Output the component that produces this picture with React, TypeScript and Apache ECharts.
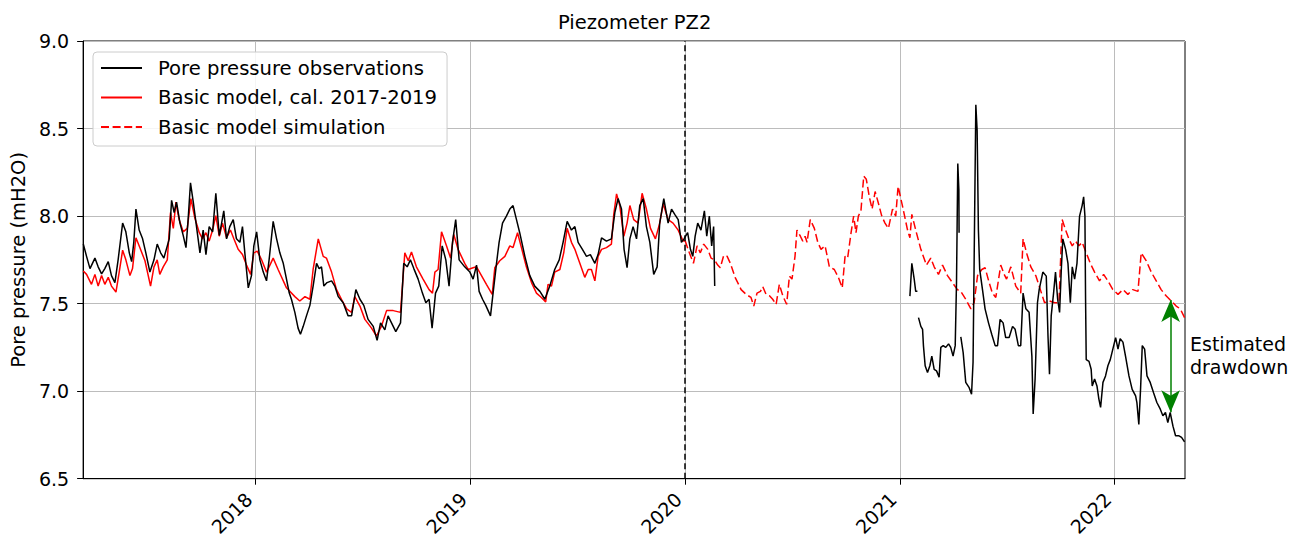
import React, { useEffect, useRef } from "react";
import * as echarts from "echarts";

// ---- axis ranges / ticks (decimal years, mH2O) ----
const X_MIN = 2017.197;
const X_MAX = 2022.328;
const YEAR_TICKS = [2018, 2019, 2020, 2021, 2022];
const Y_MIN = 6.5;
const Y_MAX = 9.0;
const Y_STEP = 0.5;
const SPLIT_YEAR = 2020.0;

// ---- observations (black) ----
const OBS_A: number[][] = [
  [2017.198, 7.84], [2017.213, 7.77], [2017.229, 7.70], [2017.252, 7.76], [2017.267, 7.71], [2017.283, 7.67],
  [2017.298, 7.70], [2017.314, 7.74], [2017.329, 7.66], [2017.345, 7.62], [2017.360, 7.75], [2017.381, 7.96],
  [2017.396, 7.91], [2017.412, 7.79], [2017.423, 7.74], [2017.433, 7.85], [2017.443, 8.04], [2017.458, 7.92],
  [2017.474, 7.87], [2017.489, 7.79], [2017.508, 7.68], [2017.527, 7.75], [2017.542, 7.84], [2017.558, 7.79],
  [2017.573, 7.76], [2017.589, 7.83], [2017.598, 7.87], [2017.609, 8.09], [2017.621, 8.02], [2017.632, 8.08],
  [2017.648, 7.96], [2017.663, 7.89], [2017.676, 7.82], [2017.686, 7.98], [2017.697, 8.19], [2017.710, 8.08],
  [2017.725, 7.94], [2017.741, 7.79], [2017.756, 7.92], [2017.769, 7.78], [2017.784, 7.94], [2017.800, 7.91],
  [2017.815, 8.13], [2017.831, 7.89], [2017.842, 7.96], [2017.852, 8.03], [2017.865, 7.87], [2017.880, 7.94],
  [2017.896, 7.98], [2017.911, 7.87], [2017.927, 7.85], [2017.939, 7.94], [2017.950, 7.79], [2017.966, 7.59],
  [2017.981, 7.66], [2017.992, 7.83], [2018.005, 7.91], [2018.020, 7.75], [2018.036, 7.68], [2018.051, 7.63],
  [2018.063, 7.75], [2018.082, 7.97], [2018.098, 7.87], [2018.113, 7.79], [2018.129, 7.73], [2018.144, 7.64],
  [2018.157, 7.56], [2018.167, 7.525], [2018.183, 7.45], [2018.198, 7.36], [2018.209, 7.325], [2018.222, 7.37],
  [2018.237, 7.43], [2018.253, 7.49], [2018.268, 7.60], [2018.284, 7.73], [2018.296, 7.70], [2018.307, 7.71],
  [2018.318, 7.60], [2018.333, 7.62], [2018.354, 7.63], [2018.369, 7.60], [2018.385, 7.54], [2018.408, 7.505],
  [2018.431, 7.43], [2018.447, 7.43], [2018.467, 7.58], [2018.486, 7.525], [2018.504, 7.49], [2018.524, 7.41],
  [2018.548, 7.37], [2018.566, 7.29], [2018.582, 7.39], [2018.602, 7.35], [2018.617, 7.43], [2018.633, 7.39],
  [2018.653, 7.34], [2018.675, 7.39], [2018.690, 7.73], [2018.706, 7.71], [2018.721, 7.75], [2018.737, 7.70],
  [2018.757, 7.64], [2018.777, 7.56], [2018.793, 7.505], [2018.808, 7.525], [2018.822, 7.36], [2018.838, 7.56],
  [2018.853, 7.60], [2018.869, 7.83], [2018.886, 7.75], [2018.901, 7.60], [2018.917, 7.85], [2018.932, 7.98],
  [2018.948, 7.75], [2018.974, 7.71], [2018.998, 7.68], [2019.013, 7.64], [2019.029, 7.72], [2019.041, 7.57],
  [2019.057, 7.525], [2019.072, 7.49], [2019.094, 7.43], [2019.106, 7.56], [2019.122, 7.73], [2019.134, 7.85],
  [2019.150, 7.96], [2019.168, 8.0], [2019.184, 8.04], [2019.199, 8.06], [2019.215, 7.98], [2019.230, 7.905],
  [2019.254, 7.77], [2019.277, 7.66], [2019.300, 7.60], [2019.324, 7.57], [2019.347, 7.525], [2019.370, 7.60],
  [2019.393, 7.695], [2019.414, 7.75], [2019.432, 7.85], [2019.451, 7.97], [2019.471, 7.92], [2019.487, 7.94],
  [2019.502, 7.85], [2019.522, 7.81], [2019.541, 7.77], [2019.559, 7.78], [2019.580, 7.73], [2019.595, 7.78],
  [2019.611, 7.876], [2019.634, 7.857], [2019.657, 7.87], [2019.673, 8.02], [2019.688, 8.10], [2019.704, 8.04],
  [2019.716, 7.81], [2019.730, 7.705], [2019.743, 7.87], [2019.758, 7.94], [2019.774, 7.87], [2019.789, 8.06],
  [2019.805, 8.10], [2019.820, 7.94], [2019.836, 7.85], [2019.854, 7.667], [2019.870, 7.71], [2019.882, 7.96],
  [2019.901, 8.10], [2019.921, 7.96], [2019.937, 8.04], [2019.952, 8.01], [2019.968, 7.98], [2019.983, 7.85],
  [2019.995, 7.87], [2020.012, 7.905], [2020.025, 7.81], [2020.036, 7.77], [2020.047, 7.885], [2020.059, 7.96],
  [2020.074, 7.92], [2020.090, 8.03], [2020.101, 7.885], [2020.113, 8.0], [2020.124, 7.83], [2020.133, 7.94],
  [2020.138, 7.60],
];
const OBS_B: number[][] = [
  [2021.047, 7.543], [2021.056, 7.73], [2021.067, 7.64], [2021.074, 7.57], [2021.082, 7.57],
];
const OBS_C: number[][] = [
  [2021.087, 7.42], [2021.098, 7.37], [2021.106, 7.353], [2021.110, 7.26], [2021.118, 7.145], [2021.129, 7.107],
  [2021.140, 7.145], [2021.149, 7.20], [2021.160, 7.125], [2021.171, 7.116], [2021.183, 7.08], [2021.191, 7.25],
  [2021.202, 7.26], [2021.214, 7.25], [2021.227, 7.27], [2021.237, 7.25], [2021.248, 7.20], [2021.258, 7.26],
  [2021.264, 7.62], [2021.270, 8.30], [2021.275, 8.15], [2021.276, 7.905],
];
const OBS_D: number[][] = [
  [2021.284, 7.31], [2021.295, 7.22], [2021.307, 7.05], [2021.323, 7.02], [2021.334, 6.983], [2021.341, 7.164],
  [2021.348, 7.96], [2021.354, 8.636], [2021.360, 8.49], [2021.366, 7.92], [2021.372, 7.695], [2021.385, 7.58],
  [2021.397, 7.47], [2021.413, 7.39], [2021.428, 7.325], [2021.444, 7.26], [2021.455, 7.26], [2021.467, 7.41],
  [2021.481, 7.39], [2021.493, 7.306], [2021.509, 7.306], [2021.525, 7.37], [2021.537, 7.353], [2021.552, 7.26],
  [2021.563, 7.26], [2021.574, 7.56], [2021.587, 7.47], [2021.602, 7.45], [2021.615, 7.20], [2021.621, 6.87],
  [2021.630, 7.07], [2021.641, 7.505], [2021.649, 7.58], [2021.666, 7.68], [2021.682, 7.657], [2021.690, 7.315],
  [2021.697, 7.097], [2021.705, 7.43], [2021.716, 7.56], [2021.725, 7.68], [2021.735, 7.525], [2021.744, 7.45],
  [2021.752, 7.695], [2021.759, 7.87], [2021.772, 7.81], [2021.783, 7.73], [2021.794, 7.505], [2021.803, 7.71],
  [2021.814, 7.64], [2021.825, 7.73], [2021.837, 8.0], [2021.849, 8.06], [2021.856, 8.11], [2021.862, 8.0],
  [2021.865, 7.525], [2021.868, 7.18], [2021.881, 7.17], [2021.891, 7.125], [2021.896, 7.03], [2021.907, 7.07],
  [2021.918, 7.03], [2021.927, 6.955], [2021.935, 6.907], [2021.946, 7.05], [2021.958, 7.087], [2021.969, 7.145],
  [2021.980, 7.18], [2021.992, 7.24], [2022.005, 7.306], [2022.016, 7.24], [2022.026, 7.30], [2022.039, 7.28],
  [2022.051, 7.20], [2022.067, 7.087], [2022.082, 7.01], [2022.098, 6.973], [2022.104, 6.935], [2022.113, 6.81],
  [2022.121, 7.01], [2022.129, 7.26], [2022.140, 7.24], [2022.151, 7.087], [2022.166, 7.05], [2022.182, 6.99],
  [2022.197, 6.935], [2022.213, 6.897], [2022.225, 6.86], [2022.237, 6.878], [2022.248, 6.82], [2022.259, 6.878],
  [2022.272, 6.80], [2022.284, 6.745], [2022.300, 6.745], [2022.312, 6.736], [2022.326, 6.71],
];

// ---- basic model, calibration period (red solid) ----
const CAL: number[][] = [
  [2017.198, 7.686], [2017.213, 7.667], [2017.236, 7.61], [2017.252, 7.667], [2017.267, 7.60], [2017.283, 7.66],
  [2017.298, 7.61], [2017.314, 7.65], [2017.329, 7.60], [2017.350, 7.566], [2017.365, 7.68], [2017.381, 7.805],
  [2017.396, 7.75], [2017.415, 7.66], [2017.427, 7.70], [2017.443, 7.876], [2017.461, 7.82], [2017.485, 7.745],
  [2017.511, 7.60], [2017.527, 7.71], [2017.542, 7.75], [2017.554, 7.667], [2017.570, 7.71], [2017.589, 7.75],
  [2017.604, 8.02], [2017.617, 7.93], [2017.629, 8.08], [2017.644, 7.98], [2017.663, 7.91], [2017.682, 7.93],
  [2017.699, 8.10], [2017.717, 7.99], [2017.738, 7.905], [2017.753, 7.87], [2017.769, 7.905], [2017.784, 7.857],
  [2017.800, 7.92], [2017.815, 8.003], [2017.831, 7.885], [2017.846, 7.96], [2017.865, 7.876], [2017.883, 7.92],
  [2017.899, 7.87], [2017.919, 7.81], [2017.939, 7.78], [2017.958, 7.72], [2017.977, 7.667], [2017.992, 7.79],
  [2018.008, 7.80], [2018.028, 7.75], [2018.051, 7.68], [2018.063, 7.71], [2018.082, 7.76], [2018.105, 7.695],
  [2018.144, 7.59], [2018.183, 7.54], [2018.206, 7.515], [2018.230, 7.54], [2018.253, 7.525], [2018.268, 7.695],
  [2018.292, 7.87], [2018.315, 7.77], [2018.330, 7.76], [2018.354, 7.68], [2018.377, 7.58], [2018.400, 7.525],
  [2018.424, 7.47], [2018.447, 7.45], [2018.462, 7.54], [2018.486, 7.486], [2018.509, 7.41], [2018.540, 7.36],
  [2018.563, 7.315], [2018.586, 7.37], [2018.610, 7.46], [2018.641, 7.46], [2018.675, 7.45], [2018.695, 7.79],
  [2018.711, 7.745], [2018.726, 7.795], [2018.749, 7.71], [2018.780, 7.64], [2018.808, 7.58], [2018.824, 7.56],
  [2018.835, 7.68], [2018.850, 7.695], [2018.866, 7.91], [2018.889, 7.83], [2018.908, 7.76], [2018.923, 7.895],
  [2018.943, 7.81], [2018.974, 7.73], [2018.990, 7.695], [2019.013, 7.705], [2019.029, 7.71], [2019.052, 7.66],
  [2019.075, 7.61], [2019.102, 7.553], [2019.114, 7.705], [2019.137, 7.745], [2019.161, 7.77], [2019.184, 7.83],
  [2019.199, 7.82], [2019.220, 7.905], [2019.238, 7.82], [2019.261, 7.71], [2019.285, 7.62], [2019.308, 7.56],
  [2019.331, 7.535], [2019.351, 7.51], [2019.362, 7.61], [2019.378, 7.60], [2019.393, 7.68], [2019.417, 7.695],
  [2019.435, 7.79], [2019.451, 7.93], [2019.471, 7.85], [2019.487, 7.81], [2019.510, 7.73], [2019.533, 7.65],
  [2019.549, 7.695], [2019.564, 7.695], [2019.580, 7.63], [2019.595, 7.77], [2019.611, 7.81], [2019.634, 7.82],
  [2019.657, 7.84], [2019.668, 8.01], [2019.681, 8.127], [2019.696, 8.06], [2019.715, 7.885], [2019.730, 7.96],
  [2019.743, 8.06], [2019.761, 7.98], [2019.781, 7.96], [2019.800, 8.13], [2019.820, 8.04], [2019.839, 7.93],
  [2019.862, 7.87], [2019.882, 7.96], [2019.898, 8.07], [2019.921, 7.98], [2019.944, 7.96], [2019.968, 7.92],
  [2019.991, 7.857], [2020.0, 7.86],
];

// ---- basic model, simulation period (red dashed) ----
const SIM: number[][] = [
  [2020.0, 7.86], [2020.020, 7.79], [2020.039, 7.73], [2020.056, 7.83], [2020.071, 7.79], [2020.087, 7.84],
  [2020.106, 7.81], [2020.121, 7.76], [2020.137, 7.75], [2020.152, 7.72], [2020.164, 7.705], [2020.180, 7.775],
  [2020.196, 7.77], [2020.211, 7.73], [2020.233, 7.65], [2020.261, 7.58], [2020.284, 7.553], [2020.307, 7.535],
  [2020.320, 7.486], [2020.335, 7.56], [2020.351, 7.57], [2020.362, 7.597], [2020.377, 7.553], [2020.393, 7.545],
  [2020.408, 7.525], [2020.424, 7.496], [2020.439, 7.61], [2020.455, 7.545], [2020.473, 7.496], [2020.486, 7.657],
  [2020.498, 7.64], [2020.512, 7.77], [2020.521, 7.92], [2020.537, 7.885], [2020.548, 7.857], [2020.559, 7.885],
  [2020.568, 7.85], [2020.583, 7.98], [2020.602, 7.93], [2020.618, 7.85], [2020.633, 7.81], [2020.652, 7.83],
  [2020.672, 7.71], [2020.695, 7.695], [2020.714, 7.65], [2020.732, 7.59], [2020.745, 7.77], [2020.757, 7.76],
  [2020.773, 7.905], [2020.785, 8.0], [2020.796, 7.905], [2020.807, 8.0], [2020.819, 8.03], [2020.832, 8.228],
  [2020.844, 8.21], [2020.858, 8.11], [2020.871, 8.04], [2020.885, 8.14], [2020.900, 8.075], [2020.916, 8.0],
  [2020.931, 7.96], [2020.947, 7.93], [2020.966, 8.04], [2020.981, 8.0], [2020.992, 8.17], [2021.012, 8.06],
  [2021.036, 7.92], [2021.047, 7.876], [2021.056, 8.01], [2021.074, 7.92], [2021.098, 7.81], [2021.124, 7.72],
  [2021.144, 7.76], [2021.160, 7.71], [2021.180, 7.667], [2021.199, 7.72], [2021.222, 7.66], [2021.245, 7.62],
  [2021.268, 7.58], [2021.284, 7.57], [2021.307, 7.525], [2021.331, 7.47], [2021.346, 7.505], [2021.362, 7.66],
  [2021.382, 7.695], [2021.397, 7.705], [2021.416, 7.62], [2021.431, 7.56], [2021.447, 7.535], [2021.470, 7.72],
  [2021.486, 7.667], [2021.497, 7.64], [2021.517, 7.71], [2021.540, 7.60], [2021.563, 7.56], [2021.574, 7.87],
  [2021.590, 7.79], [2021.610, 7.71], [2021.633, 7.66], [2021.649, 7.60], [2021.674, 7.505], [2021.697, 7.515],
  [2021.721, 7.505], [2021.741, 7.505], [2021.756, 7.98], [2021.772, 7.92], [2021.787, 7.87], [2021.803, 7.83],
  [2021.818, 7.857], [2021.834, 7.83], [2021.849, 7.85], [2021.868, 7.79], [2021.887, 7.73], [2021.907, 7.68],
  [2021.930, 7.63], [2021.949, 7.667], [2021.969, 7.63], [2021.992, 7.58], [2022.016, 7.553], [2022.039, 7.58],
  [2022.062, 7.553], [2022.085, 7.58], [2022.109, 7.57], [2022.124, 7.79], [2022.147, 7.745], [2022.171, 7.68],
  [2022.194, 7.63], [2022.217, 7.58], [2022.241, 7.543], [2022.264, 7.515], [2022.287, 7.486], [2022.306, 7.47],
  [2022.326, 7.42],
];

// ---- estimated drawdown arrow ----
const ARROW_X = 2022.261;
const ARROW_TOP = 7.52;
const ARROW_BOTTOM = 6.88;

const NAMES = ["Pore pressure observations", "Basic model, cal. 2017-2019", "Basic model simulation"];
const FONT = "DejaVu Sans";

export default function App() {
  const ref = useRef<HTMLDivElement>(null);
  useEffect(() => {
    if (!ref.current) return;
    const chart = echarts.init(ref.current, null, { renderer: "svg" });
    const obsSeries = [OBS_A, OBS_B, OBS_C, OBS_D].map((seg) => ({
      name: NAMES[0],
      type: "line",
      data: seg,
      symbol: "none",
      showSymbol: false,
      lineStyle: { color: "#000000", width: 1.5 },
      itemStyle: { color: "#000000" },
      z: 3,
    }));
    chart.setOption({
      animation: false,
      textStyle: { fontFamily: FONT },
      title: {
        text: "Piezometer PZ2",
        left: 558,
        top: 12,
        padding: 0,
        textStyle: { fontFamily: FONT, fontSize: 19.5, fontWeight: "normal", color: "#000" },
      },
      grid: {
        left: 83,
        right: 116,
        top: 41,
        bottom: 59,
        show: true,
        borderColor: "#000",
        borderWidth: 1,
        backgroundColor: "transparent",
      },
      legend: {
        data: NAMES,
        orient: "vertical",
        left: 93,
        top: 52,
        itemWidth: 41,
        itemHeight: 14,
        itemGap: 5.5,
        padding: [4, 10, 7, 7],
        backgroundColor: "rgba(255,255,255,0.85)",
        borderColor: "#cccccc",
        borderWidth: 1,
        borderRadius: 4,
        itemStyle: { opacity: 0 },
        textStyle: { fontFamily: FONT, fontSize: 19.6, color: "#000", lineHeight: 24, padding: [0, 0, 0, 11] },
      },
      xAxis: {
        type: "value",
        min: X_MIN,
        max: X_MAX,
        axisLine: { show: true, lineStyle: { color: "#000", width: 1 } },
        axisTick: { show: true, length: 6, customValues: YEAR_TICKS, lineStyle: { color: "#000" } },
        axisLabel: {
          customValues: YEAR_TICKS,
          rotate: 45,
          margin: 24,
          verticalAlign: "bottom",
          fontFamily: FONT,
          fontSize: 19,
          color: "#000",
          formatter: (v: number) => String(Math.round(v)),
        },
        splitLine: { show: true, lineStyle: { color: "#bcbcbc", width: 1 } },
      },
      yAxis: {
        type: "value",
        min: Y_MIN,
        max: Y_MAX,
        interval: Y_STEP,
        name: "Pore pressure (mH2O)",
        nameLocation: "middle",
        nameGap: 48,
        nameTextStyle: { fontFamily: FONT, fontSize: 19.5, color: "#000" },
        axisLine: { show: true, lineStyle: { color: "#000", width: 1 } },
        axisTick: { show: true, length: 6, lineStyle: { color: "#000" } },
        axisLabel: {
          margin: 14,
          fontFamily: FONT,
          fontSize: 19,
          color: "#000",
          formatter: (v: number) => v.toFixed(1),
        },
        splitLine: { show: true, lineStyle: { color: "#bcbcbc", width: 1 } },
      },
      series: [
        ...obsSeries,
        {
          name: NAMES[1],
          type: "line",
          data: CAL,
          symbol: "none",
          showSymbol: false,
          lineStyle: { color: "#ff0000", width: 1.5 },
          itemStyle: { color: "#ff0000" },
          z: 2,
          markLine: {
            silent: true,
            symbol: "none",
            label: { show: false },
            lineStyle: { color: "#000", type: [6, 3.5], width: 1.5 },
            data: [{ xAxis: SPLIT_YEAR }],
          },
        },
        {
          name: NAMES[2],
          type: "line",
          data: SIM,
          symbol: "none",
          showSymbol: false,
          lineStyle: { color: "#ff0000", width: 1.5, type: [8, 3.6] },
          itemStyle: { color: "#ff0000" },
          z: 2,
          markLine: {
            silent: true,
            symbol: ["arrow", "arrow"],
            symbolSize: [14, 22],
            label: { show: false },
            lineStyle: { color: "#008000", type: "solid", width: 1.5 },
            itemStyle: { color: "#008000" },
            data: [[{ coord: [ARROW_X, ARROW_TOP] }, { coord: [ARROW_X, ARROW_BOTTOM] }]],
          },
        },
      ],
      graphic: [
        {
          type: "text",
          left: 1190,
          top: 332,
          style: {
            text: "Estimated\ndrawdown",
            fontFamily: FONT,
            fontSize: 19,
            lineHeight: 23.5,
            fill: "#000",
          },
        },
      ],
    });
    return () => chart.dispose();
  }, []);
  return <div ref={ref} style={{ position: "absolute", left: 0, top: 0, width: 1301, height: 539 }} />;
}
